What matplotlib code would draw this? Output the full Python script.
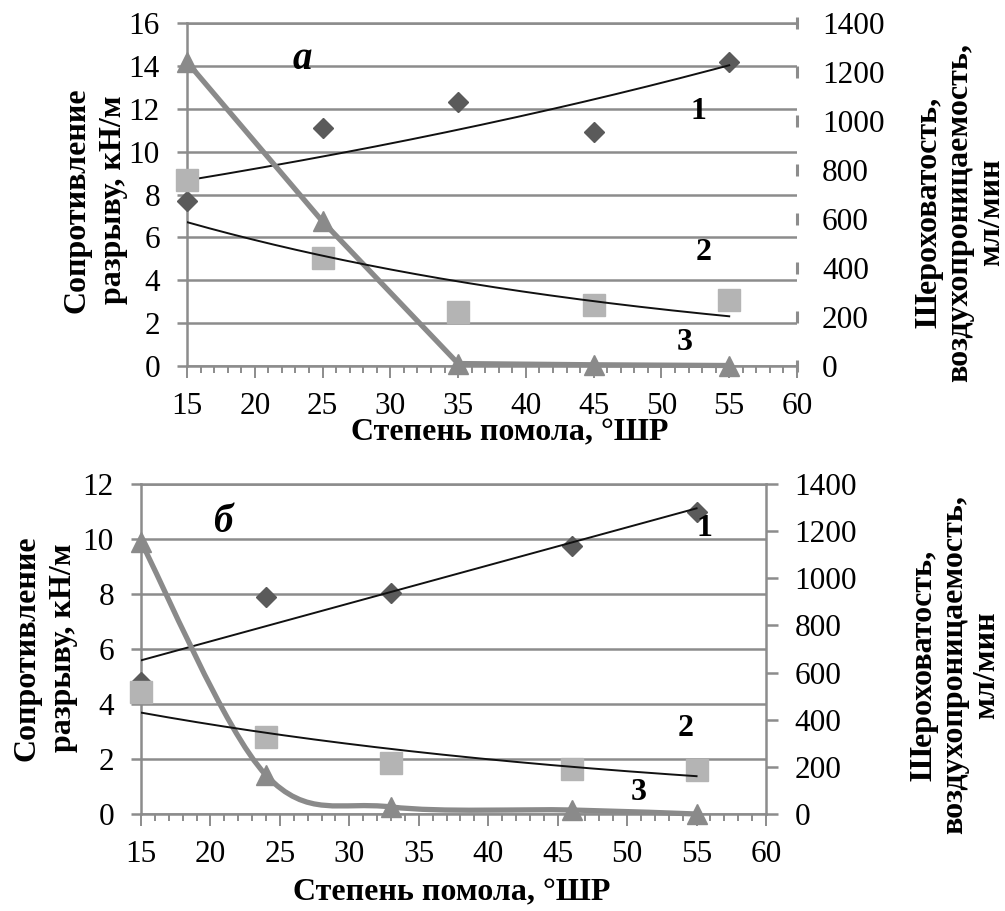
import numpy as np
import matplotlib
matplotlib.use("Agg")
import matplotlib.pyplot as plt
from matplotlib.path import Path
from matplotlib.patches import PathPatch

plt.rcParams['font.family'] = ['Liberation Serif', 'DejaVu Serif']

# ---------------- data ----------------
# panel a
x_a = [15, 25, 35, 45, 55]
strength_a = [7.7, 11.1, 12.3, 10.9, 14.2]          # series 1, kN/m (left)
rough_a = [760, 441, 220, 247, 269]                 # series 2, ml/min (right)
air_a = [1241, 590, 10, 5, 2]                       # series 3, ml/min (right)
# panel b
x_b = [15, 24, 33, 46, 55]
strength_b = [4.8, 7.9, 8.05, 9.75, 10.98]
rough_b = [518, 327, 216, 191, 188]
air_b = [1154, 165, 30, 17, 0]

x_ticks = [15, 20, 25, 30, 35, 40, 45, 50, 55, 60]
left_ticks_a = [0, 2, 4, 6, 8, 10, 12, 14, 16]
left_ticks_b = [0, 2, 4, 6, 8, 10, 12]
right_ticks = [0, 200, 400, 600, 800, 1000, 1200, 1400]

xlabel = "Степень помола, °ШР"
ylabel_left = "Сопротивление\nразрыву, кН/м"
ylabel_right = "Шероховатость,\nвоздухопроницаемость,\nмл/мин"

GRID = '#8c8c8c'
C1 = '#5a5a5a'
C2 = '#b4b4b4'
C3 = '#8a8a8a'
W, H = 1005, 911
DPI = 100
TICK_FS = 22.5
LAB_FS = 23
fig = plt.figure(figsize=(W / DPI, H / DPI), dpi=DPI)


def fx(px):
    return px / W


def fy(py):
    return 1 - py / H


def smooth_path(xs, ys):
    # Excel-like Bezier smoothing (Catmull-Rom style control points)
    P = np.column_stack([xs, ys]).astype(float)
    n = len(P)
    verts = [P[0]]
    codes = [Path.MOVETO]
    for i in range(n - 1):
        p0 = P[i - 1] if i > 0 else P[i]
        p1 = P[i]
        p2 = P[i + 1]
        p3 = P[i + 2] if i + 2 < n else P[i + 1]
        c1 = p1 + (p2 - p0) / 6
        c2 = p2 - (p3 - p1) / 6
        verts += [c1, c2, p2]
        codes += [Path.CURVE4] * 3
    return Path(verts, codes)


def make_panel(rect, x, s1, s2, s3, lticks, lmax, right_spine, smooth,
               texts, letter, letter_pos):
    ax = fig.add_axes(rect)
    ax.set_xlim(15, 60)
    ax.set_ylim(0, lmax)
    ax.set_yticks(lticks)
    ax.set_xticks(x_ticks)
    ax.set_xticks(np.arange(15, 61, 1), minor=True)
    ax.grid(axis='y', color=GRID, lw=1.8)
    ax.set_axisbelow(True)
    for s in ['left', 'bottom', 'top']:
        ax.spines[s].set_color(GRID)
        ax.spines[s].set_linewidth(1.8)
    ax.spines['right'].set_visible(False)
    ax.tick_params(axis='y', which='major', length=7.5, width=1.8, color=GRID,
                   labelsize=TICK_FS, pad=12)
    ax.tick_params(axis='x', which='major', length=8.5, width=1.4, color=GRID,
                   labelsize=TICK_FS, pad=10)
    ax.tick_params(axis='x', which='minor', length=5, width=1.4, color=GRID)

    ax2 = ax.twinx()
    ax2.set_ylim(0, 1400)
    ax2.set_yticks(right_ticks)
    for s in ['left', 'bottom', 'top']:
        ax2.spines[s].set_visible(False)
    if right_spine:
        ax2.spines['right'].set_color(GRID)
        ax2.spines['right'].set_linewidth(1.8)
        ax2.tick_params(axis='y', length=8.5, width=1.8, color=GRID,
                        labelsize=TICK_FS, pad=12)
    else:
        ax2.spines['right'].set_visible(False)
        ax2.tick_params(axis='y', length=0, labelsize=TICK_FS, pad=18)
        ax2.plot([60] * len(right_ticks), right_ticks, '|', color=GRID,
                 ms=9, mew=2.2, clip_on=False)

    xa = np.array(x, float)
    # series 1 (left) diamonds + trend
    ax.plot(x, s1, 'D', color=C1, ms=10.5, zorder=3, clip_on=False)
    xx = np.linspace(15, 55, 200)
    if smooth:
        k, b = np.polyfit(xa, np.array(s1, float), 1)
        ax.plot(xx, k * xx + b, color='#111111', lw=1.4, zorder=4)
    else:
        k, b = np.polyfit(xa, np.log(np.array(s1, float)), 1)
        ax.plot(xx, np.exp(b + k * xx), color='#111111', lw=1.4, zorder=4)

    # series 3 (right) thick line with triangles
    if smooth:
        ax2.add_patch(PathPatch(smooth_path(x, s3), fill=False, ec=C3, lw=3.8,
                                zorder=2, clip_on=False))
        ax2.plot(x, s3, '^', color=C3, ms=15, zorder=3, clip_on=False)
    else:
        ax2.plot(x, s3, '-^', color=C3, lw=3.8, ms=15, zorder=2, clip_on=False)
    # series 2 (right) squares + exponential trend
    ax2.plot(x, s2, 's', color=C2, ms=16, zorder=3, clip_on=False)
    k2, b2 = np.polyfit(xa, np.log(np.array(s2, float)), 1)
    ax2.plot(xx, np.exp(b2 + k2 * xx), color='#111111', lw=1.4, zorder=4)

    for (tx, ty, t) in texts:
        ax.text(tx, ty, t, fontsize=LAB_FS, fontweight='bold', ha='center',
                va='center')
    ax.text(letter_pos[0], letter_pos[1], letter, fontsize=28,
            fontweight='bold', style='italic', ha='center', va='center')
    return ax, ax2


# panel a
make_panel([fx(187), fy(366), fx(797) - fx(187), fy(23) - fy(366)],
           x_a, strength_a, rough_a, air_a, left_ticks_a, 16, False, False,
           [(52.7, 11.85, '1'), (53.1, 5.3, '2'), (51.7, 1.1, '3')],
           'а', (23.5, 14.3))
# panel b
make_panel([fx(141), fy(814), fx(766) - fx(141), fy(484) - fy(814)],
           x_b, strength_b, rough_b, air_b, left_ticks_b, 12, True, True,
           [(55.6, 10.4, '1'), (54.2, 3.1, '2'), (50.8, 0.8, '3')],
           'б', (20.9, 10.6))

lab = dict(fontsize=LAB_FS, fontweight='bold', ha='center',
           multialignment='center')
fig.text(fx(510), fy(440), xlabel, va='baseline', **lab)
fig.text(fx(452), fy(900), xlabel, va='baseline', **lab)
fig.text(fx(95), fy(200), ylabel_left, rotation=90, linespacing=1.35,
         va='center', **lab)
fig.text(fx(45), fy(648), ylabel_left, rotation=90, linespacing=1.35,
         va='center', **lab)
fig.text(fx(960), fy(212), ylabel_right, rotation=90, linespacing=1.1,
         va='center', **lab)
fig.text(fx(955), fy(665), ylabel_right, rotation=90, linespacing=1.1,
         va='center', **lab)

fig.savefig('out.png', dpi=DPI)
